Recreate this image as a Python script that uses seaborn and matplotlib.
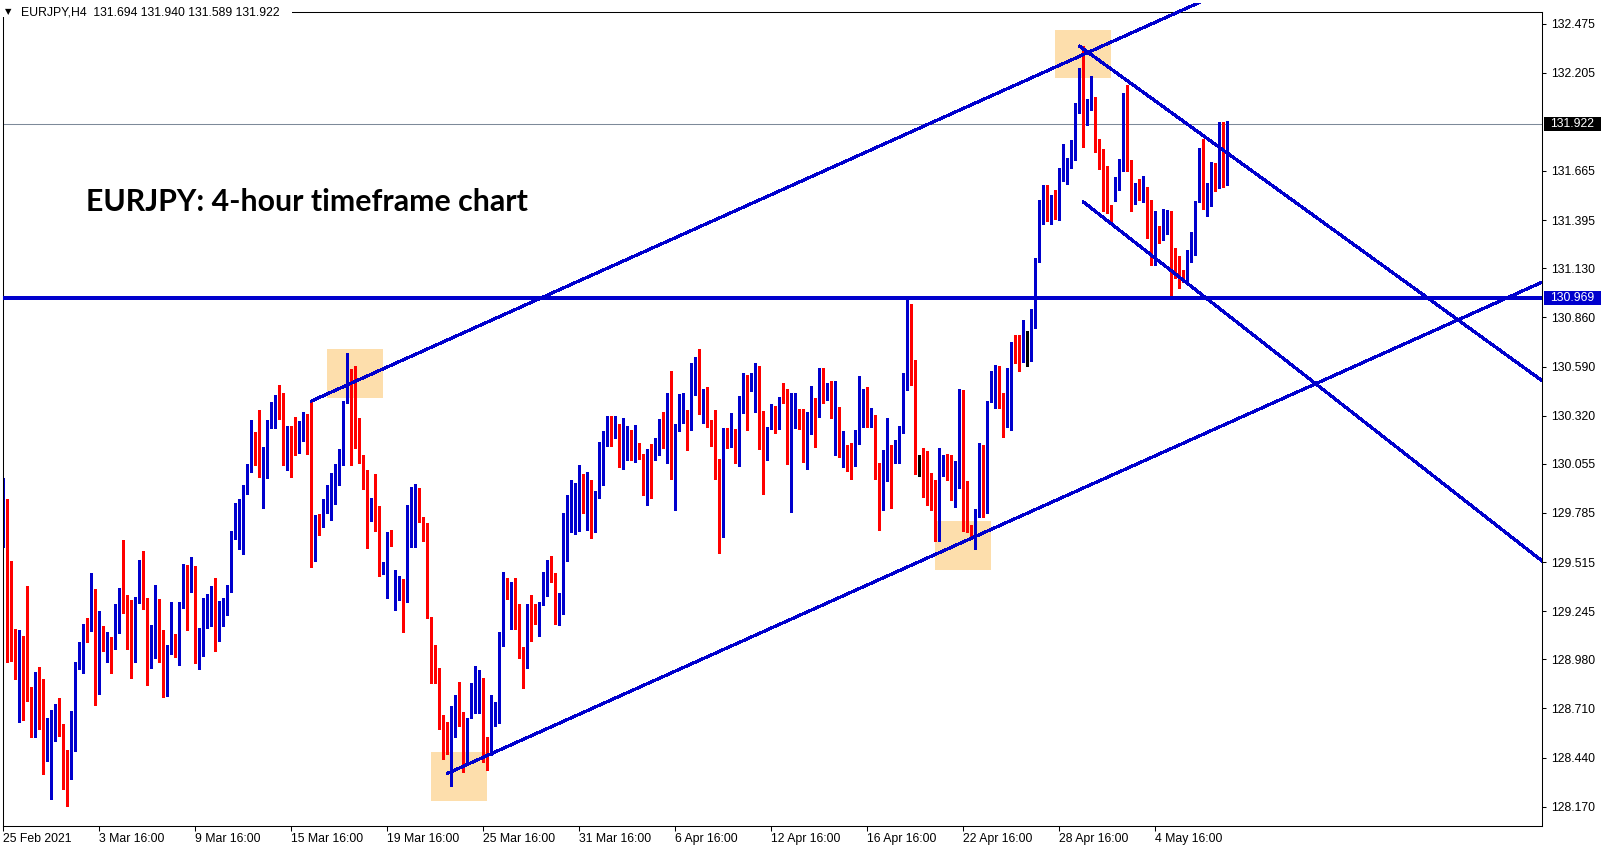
import pandas as pd
import seaborn as sns
import matplotlib
matplotlib.use('Agg')
from matplotlib import pyplot as plt
from matplotlib.patches import Rectangle
import matplotlib.transforms as mtransforms

# EURJPY H4 candles, 25 Feb 2021 16:00 .. 7 May 2021
opens = [
    129.636, 129.843, 129.328, 129.114, 129.059, 129.109, 128.876, 128.828, 128.551, 128.856,
    128.735, 128.473, 128.533, 128.564, 128.625, 128.597, 128.416, 128.324, 128.610, 128.929,
    128.977, 129.163, 129.136, 129.350, 128.839, 129.092, 129.055, 129.087, 129.072, 129.141,
    129.361, 129.279, 129.246, 129.011, 129.292, 129.356, 129.268, 128.977, 129.070, 129.295,
    129.070, 128.883, 129.021, 129.098, 128.993, 129.264, 129.422, 129.374, 129.471, 128.988,
    129.092, 129.180, 129.295, 129.323, 129.185, 129.209, 129.264, 129.352, 129.642, 129.770,
    129.803, 129.929, 130.012, 130.213, 130.098, 130.034, 130.087, 130.268, 130.301, 130.411,
    130.406, 130.116, 130.199, 130.186, 130.171, 130.246, 130.307, 130.246, 129.550, 129.752,
    129.708, 129.834, 129.889, 129.929, 129.944, 130.070, 130.389, 130.543, 130.257, 130.208,
    130.103, 130.023, 129.759, 129.856, 129.775, 129.455, 129.511, 129.658, 129.270, 129.402,
    129.411, 129.297, 129.609, 129.867, 129.872, 129.762, 129.675, 129.213, 128.976, 128.907,
    128.674, 128.520, 128.509, 128.560, 128.723, 128.659, 128.399, 128.656, 128.756, 128.788,
    128.822, 128.493, 128.454, 128.674, 128.723, 129.086, 129.394, 129.312, 129.350, 129.191,
    129.031, 128.995, 129.279, 129.207, 129.180, 129.290, 129.328, 129.493, 129.455, 129.231,
    129.279, 129.746, 129.779, 129.796, 129.801, 129.955, 129.851, 129.950, 129.680, 129.900,
    130.005, 130.180, 130.235, 130.213, 130.263, 130.054, 130.164, 130.169, 130.109, 130.147,
    130.109, 129.928, 130.131, 130.081, 130.131, 130.263, 130.158, 130.422, 129.994, 130.263,
    130.307, 130.329, 130.241, 130.576, 130.587, 130.362, 130.378, 130.268, 130.213, 130.043,
    129.713, 130.235, 130.180, 130.230, 130.186, 130.336, 130.494, 130.461, 130.340, 130.593,
    130.213, 130.098, 130.252, 130.362, 130.268, 130.411, 130.411, 130.098, 130.307, 130.351,
    130.296, 130.076, 130.329, 130.417, 130.342, 130.582, 130.466, 130.505, 130.314, 130.323,
    130.105, 130.118, 130.111, 130.045, 130.164, 130.380, 130.444, 130.320, 130.268, 130.015,
    129.940, 129.966, 130.136, 130.081, 130.158, 130.226, 130.470, 130.919, 130.521, 130.080,
    130.087, 130.076, 129.966, 129.922, 129.814, 130.017, 130.070, 130.026, 129.924, 129.924,
    130.452, 129.938, 129.720, 129.671, 129.764, 130.133, 129.786, 130.397, 130.510, 130.572,
    130.428, 130.318, 130.556, 130.715, 130.638, 130.628, 130.667, 130.665, 130.824, 131.178,
    131.429, 131.572, 131.424, 131.530, 131.499, 131.614, 131.667, 131.682, 131.726, 132.030,
    132.036, 131.953, 132.003, 132.045, 131.843, 131.728, 131.687, 131.462, 131.513, 131.585,
    131.726, 132.080, 131.726, 131.541, 131.574, 131.526, 131.579, 131.345, 131.200, 131.328,
    131.325, 131.407, 131.438, 131.200, 131.163, 131.097, 131.068, 131.163, 131.301, 131.497,
    131.785, 131.467, 131.599, 131.638, 131.572, 131.902, 131.694,
]
highs = [
    129.975, 129.860, 129.521, 129.147, 129.141, 129.109, 129.383, 128.828, 128.911, 128.938,
    128.872, 128.658, 128.702, 128.735, 128.768, 128.625, 128.482, 128.696, 128.966, 129.076,
    129.176, 129.207, 129.455, 129.367, 129.246, 129.163, 129.131, 129.103, 129.284, 129.372,
    129.636, 129.334, 129.306, 129.323, 129.526, 129.576, 129.317, 129.169, 129.389, 129.312,
    129.141, 129.059, 129.295, 129.120, 129.295, 129.504, 129.499, 129.543, 129.493, 129.152,
    129.317, 129.339, 129.383, 129.427, 129.301, 129.319, 129.391, 129.687, 129.840, 129.862,
    129.940, 130.056, 130.296, 130.230, 130.351, 130.149, 130.296, 130.395, 130.433, 130.488,
    130.444, 130.263, 130.263, 130.312, 130.290, 130.340, 130.329, 130.400, 129.775, 129.779,
    129.860, 129.939, 130.003, 130.056, 130.138, 130.400, 130.664, 130.576, 130.593, 130.307,
    130.103, 130.023, 129.867, 129.999, 129.825, 129.515, 129.682, 129.691, 129.471, 129.438,
    129.420, 129.828, 129.927, 129.946, 129.924, 129.762, 129.730, 129.213, 129.059, 128.931,
    128.674, 128.637, 128.723, 128.784, 128.857, 128.692, 128.659, 128.848, 128.943, 128.921,
    128.877, 128.555, 128.784, 128.747, 129.130, 129.460, 129.427, 129.405, 129.427, 129.284,
    129.050, 129.284, 129.334, 129.284, 129.295, 129.460, 129.526, 129.548, 129.455, 129.347,
    129.786, 129.885, 129.966, 129.950, 130.048, 129.999, 130.010, 129.966, 129.906, 130.175,
    130.235, 130.318, 130.318, 130.318, 130.274, 130.307, 130.263, 130.241, 130.268, 130.169,
    130.109, 130.136, 130.164, 130.197, 130.301, 130.340, 130.444, 130.565, 130.274, 130.439,
    130.444, 130.351, 130.609, 130.642, 130.686, 130.466, 130.477, 130.296, 130.351, 130.081,
    130.252, 130.252, 130.334, 130.246, 130.428, 130.554, 130.543, 130.554, 130.609, 130.593,
    130.345, 130.257, 130.384, 130.373, 130.422, 130.499, 130.466, 130.444, 130.444, 130.356,
    130.356, 130.340, 130.483, 130.417, 130.582, 130.582, 130.499, 130.510, 130.510, 130.367,
    130.235, 130.160, 130.169, 130.241, 130.538, 130.468, 130.477, 130.362, 130.323, 130.059,
    130.131, 130.307, 130.158, 130.186, 130.265, 130.554, 130.965, 130.932, 130.626, 130.103,
    130.142, 130.127, 130.006, 129.968, 130.142, 130.103, 130.111, 130.105, 130.072, 130.468,
    130.461, 129.960, 129.720, 129.808, 130.169, 130.160, 130.402, 130.565, 130.600, 130.593,
    130.444, 130.584, 130.726, 130.765, 130.761, 130.848, 130.788, 130.907, 131.185, 131.508,
    131.590, 131.590, 131.535, 131.563, 131.682, 131.814, 131.737, 131.834, 132.039, 132.232,
    132.354, 132.058, 132.186, 132.072, 131.843, 131.786, 131.690, 131.478, 131.632, 131.731,
    132.091, 132.140, 131.726, 131.599, 131.621, 131.636, 131.579, 131.508, 131.444, 131.361,
    131.456, 131.453, 131.444, 131.242, 131.196, 131.119, 131.229, 131.332, 131.502, 131.792,
    131.841, 131.599, 131.713, 131.711, 131.937, 131.937, 131.940,
]
lows = [
    129.596, 128.967, 128.973, 128.872, 128.638, 128.647, 128.753, 128.555, 128.551, 128.599,
    128.350, 128.423, 128.212, 128.533, 128.561, 128.267, 128.176, 128.324, 128.478, 128.929,
    128.907, 129.076, 129.136, 128.729, 128.790, 129.026, 128.966, 128.907, 129.037, 129.127,
    129.237, 129.037, 128.879, 128.966, 129.292, 129.259, 128.839, 128.934, 128.988, 128.966,
    128.773, 128.779, 129.010, 128.993, 128.949, 129.264, 129.141, 129.350, 128.960, 128.927,
    128.999, 129.152, 129.163, 129.026, 129.081, 129.165, 129.226, 129.352, 129.642, 129.586,
    129.561, 129.891, 130.012, 130.050, 129.984, 129.814, 129.979, 130.252, 130.252, 130.301,
    130.050, 130.023, 129.984, 130.105, 130.116, 130.182, 130.111, 129.490, 129.523, 129.664,
    129.708, 129.785, 129.746, 129.834, 129.939, 130.050, 130.389, 130.050, 130.144, 130.059,
    129.918, 129.594, 129.742, 129.687, 129.440, 129.449, 129.319, 129.603, 129.251, 129.306,
    129.132, 129.297, 129.599, 129.599, 129.737, 129.632, 129.209, 128.852, 128.852, 128.595,
    128.432, 128.460, 128.286, 128.551, 128.615, 128.362, 128.399, 128.656, 128.683, 128.683,
    128.414, 128.372, 128.454, 128.615, 128.632, 129.055, 129.312, 129.147, 129.147, 128.989,
    128.824, 128.934, 129.083, 129.174, 129.110, 129.279, 129.328, 129.407, 129.176, 129.169,
    129.231, 129.522, 129.680, 129.669, 129.686, 129.785, 129.691, 129.647, 129.680, 129.867,
    129.939, 130.153, 130.153, 130.199, 130.037, 130.026, 130.076, 130.076, 130.067, 130.081,
    129.884, 129.829, 129.867, 130.076, 130.103, 130.142, 130.059, 129.972, 129.801, 130.235,
    130.279, 130.131, 130.241, 130.433, 130.329, 130.279, 130.257, 130.153, 129.972, 129.565,
    129.653, 130.142, 130.147, 130.059, 130.043, 130.336, 130.241, 130.455, 130.340, 130.136,
    129.889, 130.076, 130.246, 130.224, 130.246, 130.390, 130.054, 129.790, 130.252, 130.246,
    130.067, 130.028, 130.221, 130.149, 130.314, 130.391, 130.408, 130.309, 130.105, 130.094,
    130.039, 130.017, 129.973, 130.045, 130.164, 130.259, 130.259, 130.259, 129.973, 129.693,
    129.801, 129.962, 129.812, 130.061, 130.059, 130.226, 130.460, 130.490, 129.999, 129.990,
    129.874, 129.830, 129.803, 129.632, 129.632, 129.990, 129.968, 129.858, 129.819, 129.924,
    129.687, 129.678, 129.649, 129.588, 129.764, 129.764, 129.786, 130.397, 130.362, 130.364,
    130.204, 130.259, 130.243, 130.611, 130.567, 130.616, 130.592, 130.619, 130.802, 131.163,
    131.374, 131.392, 131.374, 131.403, 131.398, 131.609, 131.596, 131.682, 131.726, 131.984,
    131.796, 131.916, 132.000, 131.768, 131.678, 131.447, 131.434, 131.383, 131.500, 131.563,
    131.667, 131.667, 131.444, 131.486, 131.504, 131.493, 131.297, 131.147, 131.150, 131.270,
    131.288, 131.319, 130.978, 131.077, 131.022, 131.053, 131.059, 131.163, 131.205, 131.497,
    131.456, 131.420, 131.475, 131.557, 131.572, 131.577, 131.589,
]
closes = [
    129.847, 129.325, 129.105, 129.059, 129.114, 128.872, 128.824, 128.625, 128.856, 128.729,
    128.478, 128.542, 128.570, 128.619, 128.595, 128.412, 128.324, 128.614, 128.938, 128.982,
    129.163, 129.136, 129.350, 128.839, 129.092, 129.065, 129.087, 129.072, 129.147, 129.361,
    129.275, 129.242, 129.011, 129.295, 129.356, 129.259, 128.977, 129.103, 129.295, 129.059,
    128.883, 129.026, 129.098, 128.993, 129.268, 129.422, 129.374, 129.471, 128.988, 129.098,
    129.185, 129.301, 129.323, 129.185, 129.213, 129.275, 129.358, 129.647, 129.775, 129.812,
    129.935, 130.039, 130.213, 130.098, 130.034, 130.094, 130.274, 130.307, 130.411, 130.400,
    130.116, 130.199, 130.180, 130.171, 130.252, 130.301, 130.241, 129.545, 129.752, 129.708,
    129.834, 129.895, 129.935, 129.951, 130.059, 130.395, 130.543, 130.246, 130.208, 130.100,
    130.017, 129.759, 129.856, 129.770, 129.457, 129.515, 129.658, 129.609, 129.405, 129.411,
    129.297, 129.614, 129.872, 129.872, 129.759, 129.673, 129.209, 128.973, 128.903, 128.670,
    128.515, 128.509, 128.564, 128.723, 128.659, 128.399, 128.659, 128.766, 128.797, 128.822,
    128.482, 128.454, 128.678, 128.727, 129.092, 129.394, 129.312, 129.339, 129.185, 129.026,
    128.995, 129.279, 129.202, 129.174, 129.295, 129.334, 129.499, 129.444, 129.231, 129.284,
    129.752, 129.790, 129.801, 129.807, 129.961, 129.851, 129.950, 129.680, 129.906, 130.010,
    130.186, 130.235, 130.213, 130.263, 130.054, 130.169, 130.175, 130.142, 130.147, 130.109,
    129.928, 130.131, 130.081, 130.136, 130.263, 130.155, 130.422, 129.994, 130.268, 130.296,
    130.329, 130.241, 130.582, 130.582, 130.362, 130.378, 130.257, 130.208, 130.039, 129.713,
    130.235, 130.175, 130.230, 130.186, 130.340, 130.488, 130.461, 130.499, 130.593, 130.208,
    130.087, 130.257, 130.367, 130.268, 130.406, 130.400, 130.092, 130.312, 130.345, 130.296,
    130.081, 130.334, 130.417, 130.342, 130.582, 130.466, 130.499, 130.318, 130.323, 130.103,
    130.114, 130.111, 130.045, 130.169, 130.384, 130.444, 130.320, 130.345, 130.015, 129.940,
    129.971, 130.136, 130.015, 130.158, 130.232, 130.472, 130.922, 130.516, 130.076, 130.080,
    130.076, 129.962, 129.918, 129.814, 130.021, 130.045, 130.021, 129.918, 129.929, 130.452,
    129.927, 129.709, 129.671, 129.770, 130.133, 129.786, 130.402, 130.505, 130.572, 130.424,
    130.323, 130.562, 130.715, 130.631, 130.616, 130.669, 130.667, 130.830, 131.185, 131.434,
    131.572, 131.420, 131.530, 131.499, 131.618, 131.728, 131.687, 131.731, 132.036, 132.036,
    131.953, 132.010, 132.045, 131.838, 131.720, 131.687, 131.453, 131.425, 131.588, 131.731,
    132.080, 131.724, 131.541, 131.574, 131.526, 131.583, 131.343, 131.200, 131.343, 131.321,
    131.411, 131.438, 131.196, 131.160, 131.095, 131.068, 131.167, 131.303, 131.502, 131.779,
    131.467, 131.599, 131.632, 131.574, 131.902, 131.750, 131.922,
]

time_labels = ['25 Feb 2021', '3 Mar 16:00', '9 Mar 16:00', '15 Mar 16:00', '19 Mar 16:00',
               '25 Mar 16:00', '31 Mar 16:00', '6 Apr 16:00', '12 Apr 16:00', '16 Apr 16:00',
               '22 Apr 16:00', '28 Apr 16:00', '4 May 16:00']
time_label_bars = [0, 24, 48, 72, 96, 120, 144, 168, 192, 216, 240, 264, 288]
price_ticks = [132.475, 132.205, 131.665, 131.395, 131.130, 130.860, 130.590, 130.320,
               130.055, 129.785, 129.515, 129.245, 128.980, 128.710, 128.440, 128.170]

level_price = 130.969
bid_price = 131.922
header = 'EURJPY,H4  131.694 131.940 131.589 131.922'
title = 'EURJPY: 4-hour timeframe chart'

# trend lines as two anchors (bar, price), drawn as rays to the right
trend_lines = [
    ((77, 130.400), (270, 132.305)),
    ((111, 128.353), (384, 131.047)),
    ((269, 132.352), (384, 130.523)),
    ((270, 131.495), (384, 129.533)),
]
# highlight boxes: bar from, bar to, price low, price high
boxes = [
    (80.9, 94.9, 130.418, 130.686),
    (106.9, 120.9, 128.203, 128.471),
    (232.9, 246.9, 129.472, 129.742),
    (262.9, 276.9, 132.174, 132.441),
]

BLUE = '#0000cd'
RED = '#ff0000'
BOX = '#fddeac'
W, H = 1607, 850
x_min, x_max = -0.15, 384.675
y_min, y_max = 128.064, 132.539

df = pd.DataFrame({'open': opens, 'high': highs, 'low': lows, 'close': closes})
df['bar'] = range(len(df))
df['color'] = [BLUE if c > o else (RED if c < o else 'black') for o, c in zip(df['open'], df['close'])]
px_price = (y_max - y_min) / (826 - 12)
df['body_low'] = df[['open', 'close']].min(axis=1)
df['body_h'] = (df['close'] - df['open']).abs().clip(lower=px_price)

sns.set_theme(style='white')
plt.rcParams['font.family'] = ['Liberation Sans', 'DejaVu Sans']

fig = plt.figure(figsize=(W / 100, H / 100), dpi=100)
ax = fig.add_axes([2.7 / W, (H - 826) / H, (1542 - 2.7) / W, (826 - 12) / H])
ax.set_xlim(x_min, x_max)
ax.set_ylim(y_min, y_max)

for x0, x1, p0, p1 in boxes:
    ax.add_patch(Rectangle((x0, p0), x1 - x0, p1 - p0, facecolor=BOX, edgecolor='none', zorder=0.5))

ax.vlines(df['bar'], df['low'], df['high'], colors=df['color'], linewidth=0.75, zorder=2, antialiased=False)
ax.bar(df['bar'], df['body_h'], bottom=df['body_low'], width=0.8, color=df['color'],
       linewidth=0, zorder=2.1, antialiased=False)

ax.axhline(bid_price, color='#7d8a99', linewidth=0.75, zorder=1.5)
ax.axhline(level_price, color=BLUE, linewidth=1.5, zorder=3, antialiased=False)

# objects may run above the frame up to the window edge
window_clip = mtransforms.TransformedBbox(
    mtransforms.Bbox([[0, 0], [1, 1 + 9 / (826 - 12)]]), ax.transAxes)
for (j1, p1), (j2, p2) in trend_lines:
    x_end = x_max + 20
    p_end = p1 + (p2 - p1) / (j2 - j1) * (x_end - j1)
    sns.lineplot(x=[j1, x_end], y=[p1, p_end], ax=ax, color=BLUE, linewidth=1.55, zorder=3, legend=False)
    line = ax.lines[-1]
    line.set_antialiased(False)
    line.set_clip_box(window_clip)

fig.text(86 / W, (H - 211) / H, title, fontsize=21.8, fontweight='bold', family='Lato',
         color='black', va='baseline', ha='left')

# axes frame and ticks
for side in ['top', 'bottom', 'left', 'right']:
    ax.spines[side].set_visible(True)
    ax.spines[side].set_color('black')
    ax.spines[side].set_linewidth(0.75)
ax.yaxis.tick_right()
ax.set_yticks(price_ticks)
ax.set_yticklabels([f'{p:.3f}' for p in price_ticks])
ax.set_xticks(time_label_bars)
ax.set_xticklabels(time_labels, ha='left')
ax.tick_params(axis='y', right=True, left=False, direction='out', length=3, width=0.75,
               colors='black', labelsize=8.8, pad=3.5)
ax.tick_params(axis='x', bottom=True, direction='out', length=3.5, width=0.75,
               colors='black', labelsize=8.8, pad=1.5)
ax.set_xlabel('')
ax.set_ylabel('')

# price boxes on the right scale
trans = mtransforms.blended_transform_factory(ax.transAxes, ax.transData)
box_w = 57 / (1542 - 2.7)
box_h = 14 * px_price
for price, face in [(bid_price, 'black'), (level_price, BLUE)]:
    ax.add_patch(Rectangle((1 + 2 / (1542 - 2.7), price - box_h / 2), box_w, box_h, transform=trans,
                           facecolor=face, edgecolor='none', clip_on=False, zorder=5))
    ax.text(1 + 8 / (1542 - 2.7), price, f'{price:.3f}', transform=trans, color='white',
            fontsize=8.8, va='center', ha='left', zorder=6, clip_on=False)

# symbol header on white background over the frame
fig.patches.append(Rectangle((0, (H - 17) / H), 292 / W, 17 / H, transform=fig.transFigure,
                             facecolor='white', edgecolor='none', zorder=5))
fig.text(5 / W, (H - 12) / H, '\u25bc', fontsize=6, family='DejaVu Sans', va='center', ha='left',
         color='black', zorder=6)
fig.text(21 / W, (H - 12.5) / H, header, fontsize=8.8, va='center', ha='left', color='black', zorder=6)

fig.savefig('out.png', dpi=100)
